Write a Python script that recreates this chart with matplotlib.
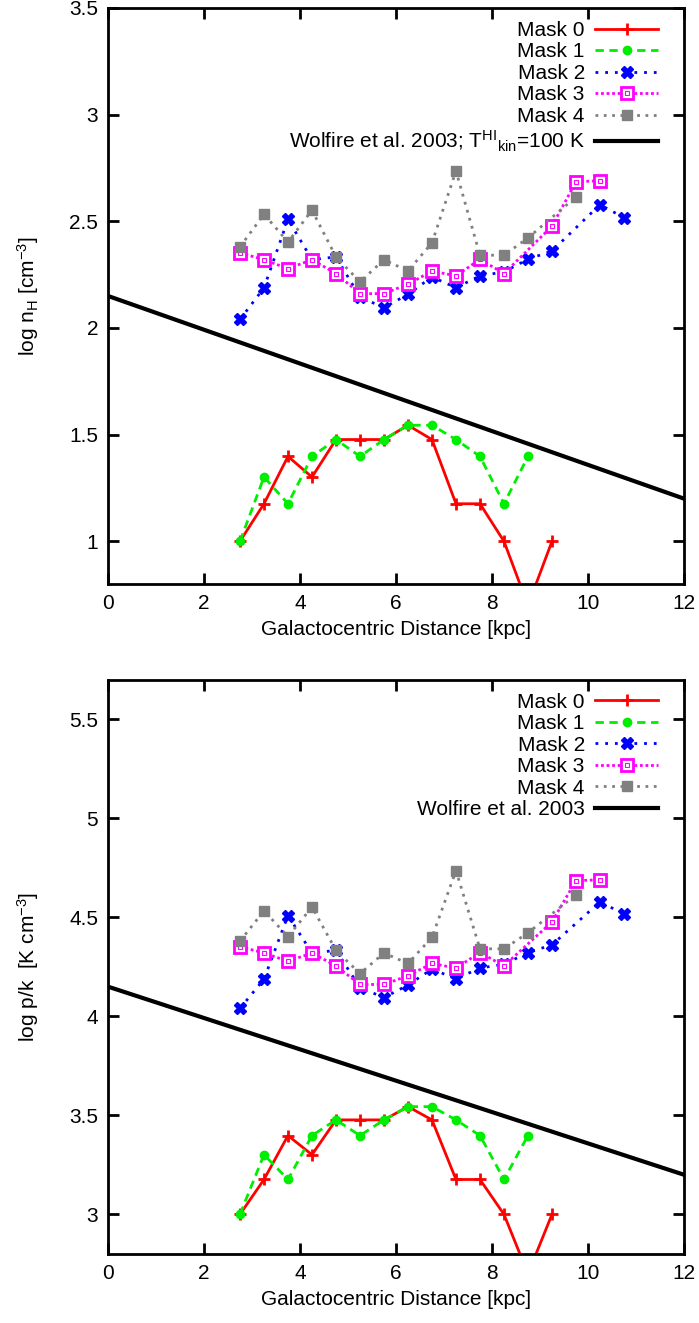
import numpy as np
import matplotlib
matplotlib.use('Agg')
import matplotlib.pyplot as plt
from matplotlib.legend_handler import HandlerTuple

plt.rcParams['font.family'] = ['Liberation Sans', 'DejaVu Sans']
plt.rcParams['mathtext.fontset'] = 'custom'
plt.rcParams['mathtext.rm'] = 'Liberation Sans'
plt.rcParams['mathtext.it'] = 'Liberation Sans:italic'

# galactocentric distance bins [kpc] and log n_H per mask
mask0_x = [2.75, 3.25, 3.75, 4.25, 4.75, 5.25, 5.75, 6.25, 6.75, 7.25, 7.75, 8.25, 8.75, 9.25]
mask0_y = [1.0, 1.176, 1.398, 1.301, 1.477, 1.477, 1.477, 1.544, 1.477, 1.176, 1.176, 1.0, 0.699, 1.0]

mask1_x = [2.75, 3.25, 3.75, 4.25, 4.75, 5.25, 5.75, 6.25, 6.75, 7.25, 7.75, 8.25, 8.75]
mask1_y = [1.0, 1.301, 1.176, 1.398, 1.477, 1.398, 1.477, 1.544, 1.544, 1.477, 1.398, 1.176, 1.398]

mask2_x = [2.75, 3.25, 3.75, 4.25, 4.75, 5.25, 5.75, 6.25, 6.75, 7.25, 7.75, 8.25, 8.75, 9.25, 10.25, 10.75]
mask2_y = [2.04, 2.188, 2.509, 2.32, 2.333, 2.145, 2.095, 2.158, 2.239, 2.189, 2.244, 2.263, 2.322, 2.361, 2.578, 2.517]

mask3_x = [2.75, 3.25, 3.75, 4.25, 4.75, 5.25, 5.75, 6.25, 6.75, 7.25, 7.75, 8.25, 9.25, 9.75, 10.25]
mask3_y = [2.352, 2.32, 2.278, 2.32, 2.255, 2.161, 2.161, 2.205, 2.267, 2.244, 2.322, 2.255, 2.477, 2.685, 2.69]

mask4_x = [2.75, 3.25, 3.75, 4.25, 4.75, 5.25, 5.75, 6.25, 6.75, 7.25, 7.75, 8.25, 8.75, 9.75]
mask4_y = [2.38, 2.533, 2.403, 2.552, 2.333, 2.216, 2.32, 2.267, 2.399, 2.736, 2.341, 2.341, 2.422, 2.614]

# Wolfire et al. 2003 relation
wolfire_x = [0, 12]
wolfire_y = [2.15, 1.2]

# p/k = n_H * T with T = 100 K
log_T = 2.0

fs = 15

fig = plt.figure(figsize=(6.99, 13.23), dpi=100)
ax1 = fig.add_axes([0.1545, 0.5586, 0.824, 0.4354])
ax2 = fig.add_axes([0.1545, 0.0522, 0.824, 0.4340])


def draw(ax, off, wolf_label, ylim, yticks, ylabel):
    h0, = ax.plot(mask0_x, np.array(mask0_y) + off, color='#ff0000', ls='-', lw=2,
                  marker='+', ms=9, mew=2, label='Mask 0')
    h1, = ax.plot(mask1_x, np.array(mask1_y) + off, color='#00ee00', ls=(0, (3, 2)), lw=2,
                  marker='o', ms=6, label='Mask 1')
    h2, = ax.plot(mask2_x, np.array(mask2_y) + off, color='#0000ff', ls=(0, (1, 2.5)), lw=2,
                  marker='X', ms=8, label='Mask 2')
    h3, = ax.plot(mask3_x, np.array(mask3_y) + off, color='#ff00ff', ls=(0, (1, 1)), lw=2,
                  marker='s', ms=8, mfc='white', mec='#ff00ff', mew=2, label='Mask 3')
    d3, = ax.plot(mask3_x, np.array(mask3_y) + off, ls='none', marker='s', ms=2.5,
                  mfc='none', mec='#ff00ff', mew=0.8)
    h4, = ax.plot(mask4_x, np.array(mask4_y) + off, color='#808080', ls=(0, (1, 2)), lw=2,
                  marker='s', ms=7, label='Mask 4')
    hw, = ax.plot(wolfire_x, np.array(wolfire_y) + off, color='black', lw=3, label=wolf_label)

    ax.set_xlim(0, 12)
    ax.set_ylim(*ylim)
    ax.set_xticks([0, 2, 4, 6, 8, 10, 12])
    ax.set_yticks(yticks)
    ax.set_yticklabels([('%g' % t) for t in yticks])
    ax.tick_params(direction='in', length=8, width=2, top=True, right=True,
                   labelsize=fs, pad=7)
    for s in ax.spines.values():
        s.set_linewidth(2)
    ax.set_xlabel('Galactocentric Distance [kpc]', fontsize=fs, labelpad=5)
    ax.set_ylabel(ylabel, fontsize=fs, labelpad=20)

    leg = ax.legend([h0, h1, h2, (h3, d3), h4, hw],
                    ['Mask 0', 'Mask 1', 'Mask 2', 'Mask 3', 'Mask 4', wolf_label],
                    handler_map={tuple: HandlerTuple(ndivide=1, pad=0)},
                    loc='upper right', bbox_to_anchor=(0.969, 0.992),
                    markerfirst=False, frameon=False, fontsize=fs,
                    handlelength=3.0, handletextpad=0.5, labelspacing=0.12,
                    borderaxespad=0.0, borderpad=0.4)
    return leg


draw(ax1, 0.0, r'Wolfire et al. 2003; T$^{\mathrm{HI}}$$_{\mathrm{kin}}$=100 K',
     (0.8, 3.5), [1, 1.5, 2, 2.5, 3, 3.5], r'log n$_{\mathrm{H}}$ [cm$^{-3}$]')
draw(ax2, log_T, 'Wolfire et al. 2003',
     (2.8, 5.7), [3, 3.5, 4, 4.5, 5, 5.5], r'log p/k  [K cm$^{-3}$]')

fig.savefig('out.png', dpi=100)
